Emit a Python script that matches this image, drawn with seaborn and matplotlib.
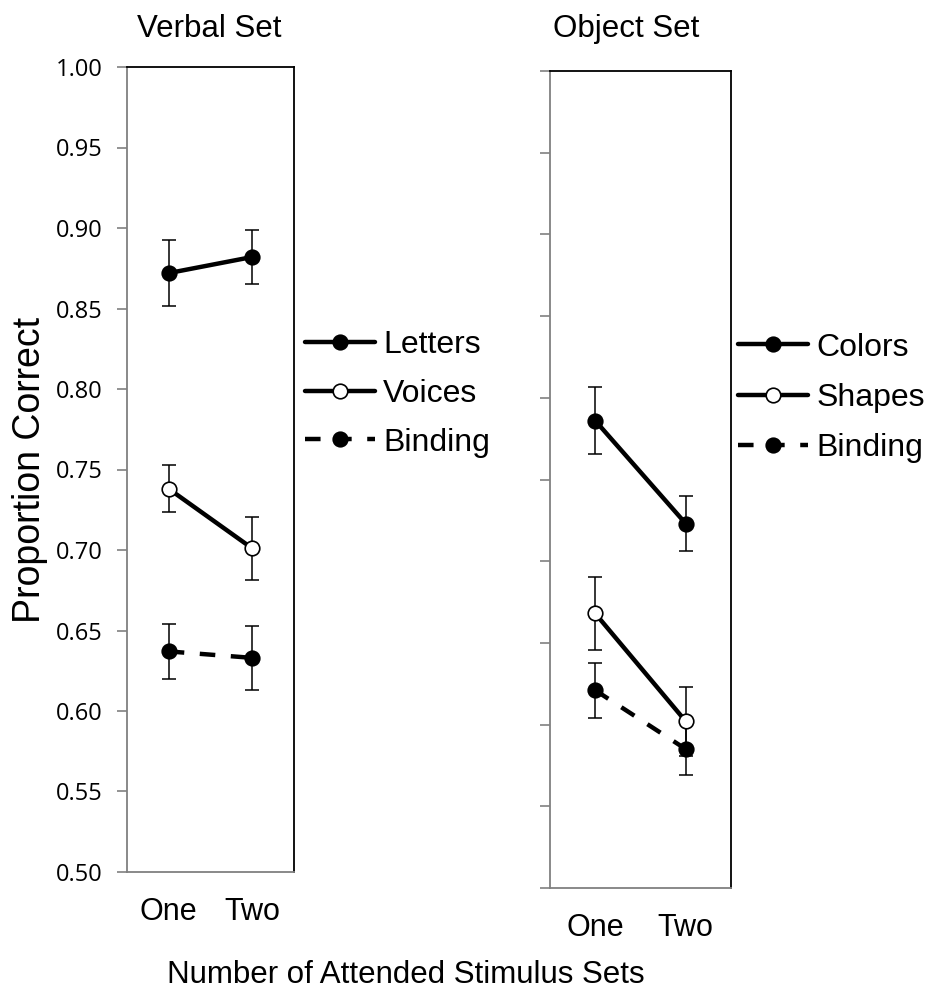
import pandas as pd
import seaborn as sns
import matplotlib.pyplot as plt

# values
levels = ["One", "Two"]
positions = [0, 1]

letters = [0.872, 0.882]
letters_err = [0.0205, 0.017]
voices = [0.738, 0.701]
voices_err = [0.0145, 0.0195]
verbal_binding = [0.637, 0.633]
verbal_binding_err = [0.017, 0.020]

colors = [0.786, 0.723]
colors_err = [0.0205, 0.017]
shapes = [0.668, 0.602]
shapes_err = [0.0225, 0.021]
object_binding = [0.621, 0.585]
object_binding_err = [0.017, 0.016]

yticks = [0.50, 0.55, 0.60, 0.65, 0.70, 0.75, 0.80, 0.85, 0.90, 0.95, 1.00]

sns.set_style("white")
plt.rcParams["font.family"] = ["Liberation Sans", "DejaVu Sans"]
plt.rcParams["text.color"] = "black"
plt.rcParams["xtick.labelcolor"] = "black"
plt.rcParams["ytick.labelcolor"] = "black"

GRAY = "#808080"


def make_df(series):
    rows = []
    for name, vals, errs, filled, dashed in series:
        for pos, lvl, v, e in zip(positions, levels, vals, errs):
            rows.append({"series": name, "pos": pos, "level": lvl, "value": v,
                         "err": e, "filled": filled, "dashed": dashed})
    return pd.DataFrame(rows)


verbal_df = make_df([
    ("Letters", letters, letters_err, True, False),
    ("Voices", voices, voices_err, False, False),
    ("Binding", verbal_binding, verbal_binding_err, True, True),
])
object_df = make_df([
    ("Colors", colors, colors_err, True, False),
    ("Shapes", shapes, shapes_err, False, False),
    ("Binding", object_binding, object_binding_err, True, True),
])


def draw_panel(ax, df, show_labels):
    handles = []
    for name, sub in df.groupby("series", sort=False):
        ax.errorbar(sub["pos"], sub["value"], yerr=sub["err"], fmt="none",
                    ecolor="black", elinewidth=1.1, capsize=4.8, capthick=1.1, zorder=2)
        filled = sub["filled"].iloc[0]
        dashed = sub["dashed"].iloc[0]
        sns.lineplot(data=sub, x="pos", y="value", ax=ax, color="black", lw=3.2,
                     linestyle=(0, (3.5, 3.5)) if dashed else "-",
                     marker="o", markersize=10.5,
                     markerfacecolor="black" if filled else "white",
                     markeredgecolor="black", markeredgewidth=1.2,
                     zorder=3, label=name, legend=False)
        handles.append(ax.lines[-1])

    ax.set_xlim(-0.5, 1.5)
    ax.set_ylim(0.5, 1.0)
    ax.set_xticks(positions)
    ax.set_xticklabels(levels, fontsize=22)
    ax.set_xticks([-0.5, 0.5, 1.5], minor=True)
    ax.tick_params(axis="x", which="major", length=0, pad=18)
    ax.tick_params(axis="x", which="minor", length=8, width=1.2, color=GRAY, direction="out")
    ax.set_yticks(yticks)
    if show_labels:
        ax.set_yticklabels([f"{t:.2f}" for t in yticks], fontsize=17, family="Open Sans")
    else:
        ax.set_yticklabels([])
    ax.tick_params(axis="y", length=7, width=1.2, color=GRAY, direction="out", pad=10.5, left=True)
    ax.set_xlabel("")
    ax.set_ylabel("")
    ax.spines["left"].set_color(GRAY)
    ax.spines["bottom"].set_color(GRAY)
    ax.spines["top"].set_color("black")
    ax.spines["right"].set_color("black")
    for s in ax.spines.values():
        s.set_linewidth(1.3)
        s.set_visible(True)
    return handles


fig = plt.figure(figsize=(9.29, 9.92), dpi=100)
W, H = 929, 992
ax1 = fig.add_axes([127 / W, 1 - 872 / H, 167 / W, 805 / H])
ax2 = fig.add_axes([550 / W, 1 - 888 / H, 181 / W, 817 / H])

h1 = draw_panel(ax1, verbal_df, True)
h2 = draw_panel(ax2, object_df, False)

leg_kw = dict(loc="center left", frameon=False, fontsize=23, handlelength=2.2,
              handletextpad=0.25, borderpad=0, borderaxespad=0)
fig.legend(h1, [h.get_label() for h in h1], bbox_to_anchor=(305 / W, 1 - 394 / H),
           labelspacing=0.58, **leg_kw)
fig.legend(h2, [h.get_label() for h in h2], bbox_to_anchor=(738 / W, 1 - 398 / H),
           labelspacing=0.64, **leg_kw)

fig.text(209 / W, 1 - 37 / H, "Verbal Set", ha="center", va="baseline", fontsize=22.5)
fig.text(626 / W, 1 - 37 / H, "Object Set", ha="center", va="baseline", fontsize=22.5)
fig.text(30 / W, 1 - 470 / H, "Proportion Correct", ha="center", va="center",
         rotation=90, fontsize=27)
fig.text(406 / W, 1 - 983 / H, "Number of Attended Stimulus Sets", ha="center",
         va="baseline", fontsize=22.5)

fig.savefig("out.png", dpi=100)
